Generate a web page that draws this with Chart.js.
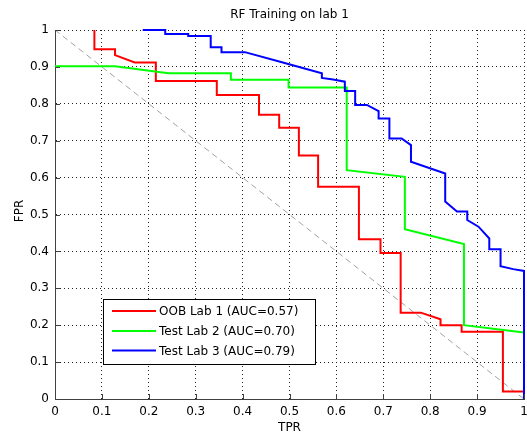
<!DOCTYPE html>
<html>
<head>
<meta charset="utf-8">
<script src="https://cdn.jsdelivr.net/npm/chart.js@4"></script>
<style>
html,body{margin:0;padding:0;background:#fff;}
#wrap{width:527px;height:437px;position:relative;}
</style>
</head>
<body>
<div id="wrap"><canvas id="c" width="527" height="437"></canvas></div>
<script>
const titleText = "RF Training on lab 1";
const xLabel = "TPR";
const yLabel = "FPR";
const tickValues = [0, 0.1, 0.2, 0.3, 0.4, 0.5, 0.6, 0.7, 0.8, 0.9, 1];
const seriesNames = ["OOB Lab 1 (AUC=0.57)", "Test Lab 2 (AUC=0.70)", "Test Lab 3 (AUC=0.79)"];

const oobX = [0.084, 0.084, 0.128, 0.128, 0.17, 0.215, 0.215, 0.345, 0.345, 0.435, 0.435, 0.478, 0.478, 0.52, 0.52, 0.561, 0.561, 0.648, 0.648, 0.694, 0.694, 0.737, 0.737, 0.78, 0.822, 0.822, 0.867, 0.867, 0.955, 0.955, 1];
const oobY = [1, 0.948, 0.948, 0.932, 0.912, 0.912, 0.862, 0.862, 0.824, 0.824, 0.77, 0.77, 0.735, 0.735, 0.66, 0.66, 0.575, 0.575, 0.433, 0.433, 0.396, 0.396, 0.234, 0.234, 0.216, 0.2, 0.2, 0.182, 0.182, 0.02, 0.02];

const lab2X = [0, 0.128, 0.242, 0.375, 0.375, 0.498, 0.498, 0.622, 0.622, 0.746, 0.746, 0.872, 0.872, 1];
const lab2Y = [0.902, 0.902, 0.883, 0.883, 0.865, 0.865, 0.844, 0.844, 0.62, 0.602, 0.46, 0.42, 0.2, 0.18];

const lab3X = [0.187, 0.235, 0.235, 0.284, 0.284, 0.332, 0.332, 0.355, 0.355, 0.405, 0.48, 0.505, 0.569, 0.569, 0.593, 0.618, 0.618, 0.64, 0.64, 0.665, 0.69, 0.69, 0.713, 0.713, 0.739, 0.759, 0.759, 0.832, 0.832, 0.857, 0.879, 0.879, 0.903, 0.926, 0.926, 0.95, 0.95, 0.977, 1, 1];
const lab3Y = [1, 1, 0.989, 0.989, 0.984, 0.984, 0.953, 0.953, 0.94, 0.94, 0.914, 0.905, 0.883, 0.87, 0.866, 0.86, 0.835, 0.835, 0.797, 0.797, 0.78, 0.76, 0.76, 0.706, 0.706, 0.688, 0.643, 0.611, 0.535, 0.508, 0.508, 0.485, 0.467, 0.435, 0.406, 0.406, 0.36, 0.352, 0.347, 0];

const diagX = [0, 1];
const diagY = [1, 0];

const zip = (xs, ys) => xs.map((x, i) => ({x: x, y: ys[i]}));
const FONT = "'DejaVu Sans', sans-serif";
const colors = ["#ff0000", "#00ff00", "#0000ff"];

const overlay = {
  id: 'overlay',
  afterDraw(chart) {
    const ctx = chart.ctx;
    const a = chart.chartArea;
    const xs = chart.scales.x, ys = chart.scales.y;
    ctx.save();
    // inward ticks
    ctx.strokeStyle = '#404040';
    ctx.lineWidth = 1;
    tickValues.forEach(v => {
      const px = Math.round(xs.getPixelForValue(v)) + 0.5;
      ctx.beginPath(); ctx.moveTo(px, a.bottom); ctx.lineTo(px, a.bottom - 5); ctx.stroke();
      const py = Math.round(ys.getPixelForValue(v)) + 0.5;
      ctx.beginPath(); ctx.moveTo(a.left, py); ctx.lineTo(a.left + 5, py); ctx.stroke();
    });
    // title and axis labels
    ctx.fillStyle = '#000';
    ctx.font = '12px ' + FONT;
    ctx.textAlign = 'center';
    ctx.textBaseline = 'middle';
    ctx.fillText(titleText, (a.left + a.right) / 2, 15);
    ctx.fillText(xLabel, (a.left + a.right) / 2, 428);
    ctx.save();
    ctx.translate(20, 211);
    ctx.rotate(-Math.PI / 2);
    ctx.fillText(yLabel, 0, 0);
    ctx.restore();
    // legend box
    const bx = 103.5, by = 299.5, bw = 212, bh = 65;
    ctx.fillStyle = '#fff';
    ctx.fillRect(bx, by, bw, bh);
    ctx.strokeStyle = '#000';
    ctx.lineWidth = 1;
    ctx.strokeRect(bx, by, bw, bh);
    const rows = [311, 331, 350.5];
    ctx.textAlign = 'left';
    seriesNames.forEach((name, i) => {
      ctx.strokeStyle = colors[i];
      ctx.lineWidth = 2;
      ctx.beginPath(); ctx.moveTo(112, rows[i]); ctx.lineTo(156, rows[i]); ctx.stroke();
      ctx.fillStyle = '#000';
      ctx.fillText(name, 159, rows[i] + 1);
    });
    ctx.restore();
  }
};

const tickFmt = v => String(Number(v.toFixed(1)));

new Chart(document.getElementById('c'), {
  type: 'line',
  data: {
    datasets: [
      {label: seriesNames[0], data: zip(oobX, oobY), borderColor: colors[0], borderWidth: 2, pointRadius: 0, order: 2, clip: 4, tension: 0},
      {label: seriesNames[1], data: zip(lab2X, lab2Y), borderColor: colors[1], borderWidth: 2, pointRadius: 0, order: 1, clip: 4, tension: 0},
      {label: seriesNames[2], data: zip(lab3X, lab3Y), borderColor: colors[2], borderWidth: 2, pointRadius: 0, order: 0, clip: 4, tension: 0},
      {label: 'diag', data: zip(diagX, diagY), borderColor: '#a0a0a0', borderWidth: 1, borderDash: [6, 4], pointRadius: 0, order: 3, tension: 0}
    ]
  },
  options: {
    responsive: false,
    animation: false,
    layout: {padding: {top: 30, right: 3, left: 0, bottom: 0}},
    plugins: {legend: {display: false}, title: {display: false}, tooltip: {enabled: false}},
    scales: {
      x: {
        type: 'linear', min: 0, max: 1,
        afterFit(s) { s.height = 38; s.paddingRight = 0; s.paddingLeft = 0; },
        afterBuildTicks(s) { s.ticks = tickValues.map(v => ({value: v})); },
        ticks: {callback: tickFmt, padding: 6, color: '#000', font: {family: FONT, size: 12}, maxRotation: 0, autoSkip: false},
        grid: {drawTicks: false, color: '#222', lineWidth: 1},
        border: {display: true, color: '#404040', width: 1, dash: [1, 3]}
      },
      y: {
        type: 'linear', min: 0, max: 1,
        afterFit(s) { s.width = 55; s.paddingTop = 0; s.paddingBottom = 0; },
        afterBuildTicks(s) { s.ticks = tickValues.map(v => ({value: v})); },
        ticks: {callback: tickFmt, padding: 6, color: '#000', font: {family: FONT, size: 12}, autoSkip: false},
        grid: {drawTicks: false, color: '#222', lineWidth: 1},
        border: {display: true, color: '#404040', width: 1, dash: [1, 3]}
      }
    }
  },
  plugins: [overlay]
});
</script>
</body>
</html>
